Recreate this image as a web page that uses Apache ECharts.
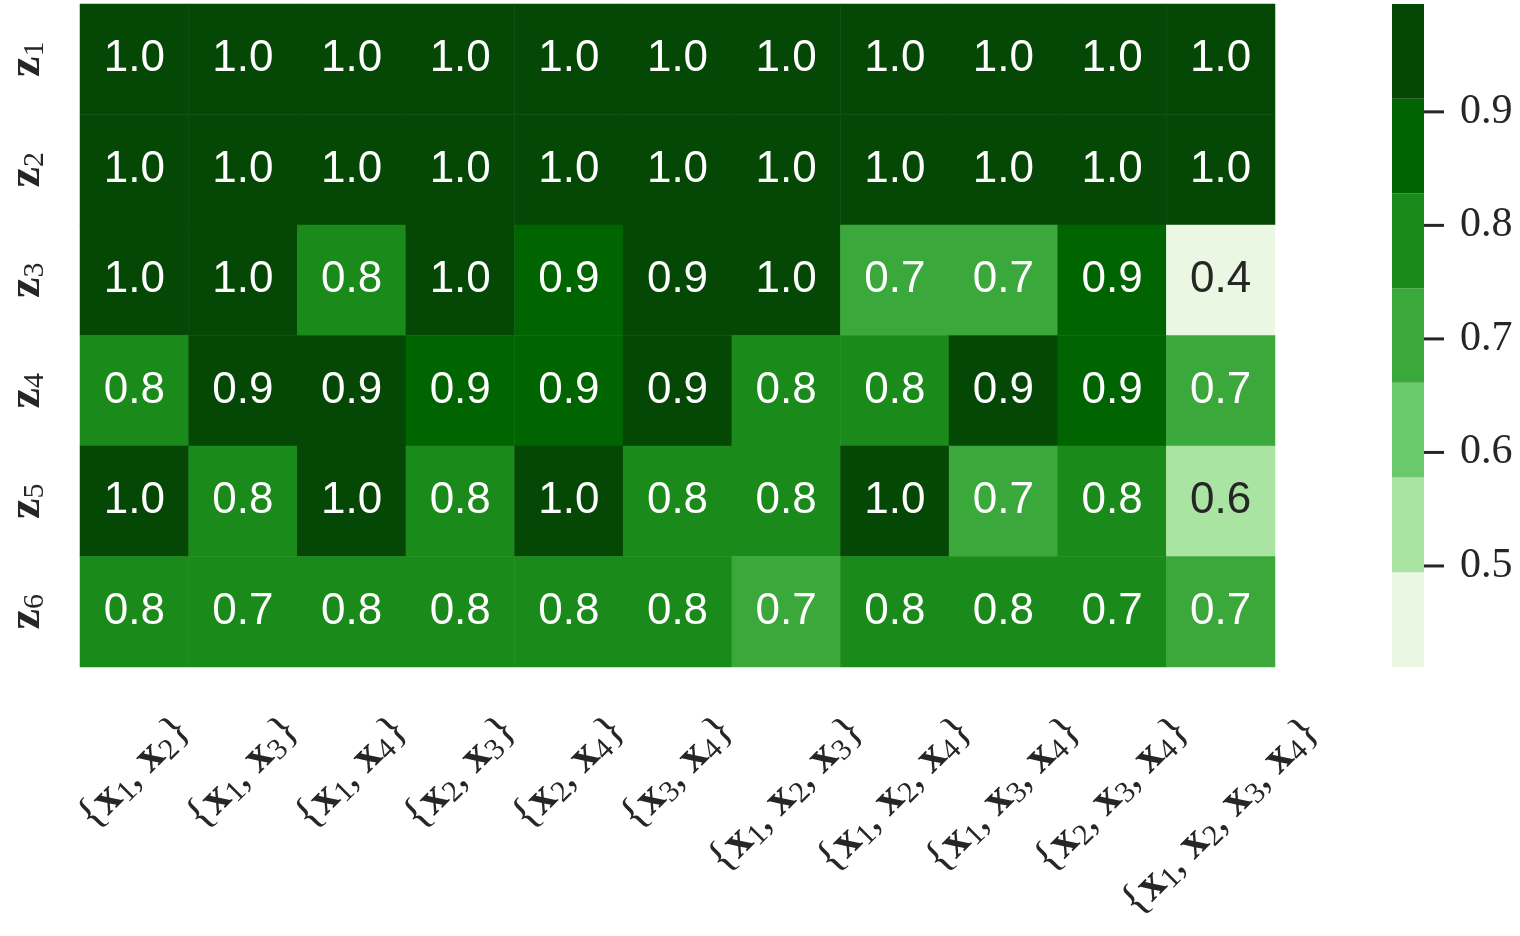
<!DOCTYPE html>
<html>
<head>
<meta charset="utf-8">
<script src="https://cdn.jsdelivr.net/npm/echarts@6/dist/echarts.min.js"></script>
<style>
  html, body { margin: 0; padding: 0; background: #fff; }
  #chart { width: 1520px; height: 936px; }
</style>
</head>
<body>
<div id="chart"></div>
<script>
// column subsets {x_i, ...}, rows z_1..z_6
const colSets = [
    ['1', '2'], ['1', '3'], ['1', '4'], ['2', '3'], ['2', '4'], ['3', '4'],
    ['1', '2', '3'], ['1', '2', '4'], ['1', '3', '4'], ['2', '3', '4'],
    ['1', '2', '3', '4']
]
const rowIds = ['1', '2', '3', '4', '5', '6']

const z1 = [0.99, 0.98, 0.99, 0.98, 0.995, 0.99, 0.98, 0.99, 0.98, 0.99, 0.98]
const z2 = [0.98, 0.99, 0.98, 0.99, 0.98, 0.97, 0.99, 0.98, 0.97, 0.98, 0.97]
const z3 = [0.97, 0.96, 0.80, 0.97, 0.88, 0.93, 0.96, 0.70, 0.71, 0.89, 0.411]
const z4 = [0.79, 0.92, 0.93, 0.89, 0.87, 0.92, 0.78, 0.80, 0.93, 0.88, 0.70]
const z5 = [0.96, 0.80, 0.96, 0.78, 0.96, 0.79, 0.80, 0.97, 0.69, 0.81, 0.56]
const z6 = [0.79, 0.746, 0.80, 0.78, 0.79, 0.80, 0.72, 0.79, 0.80, 0.748, 0.70]
const rows = [z1, z2, z3, z4, z5, z6]

const bandColors = ['#e9f7e3', '#a9e4a3', '#69c96b', '#3aa83a', '#1a8a1a', '#006400', '#054705']
const cbTicks = [0.5, 0.6, 0.7, 0.8, 0.9]

const textColor = '#262626'
const serif = '"Liberation Serif", "DejaVu Serif", serif'

let all = []
rows.forEach(r => all = all.concat(r))
const vMin = Math.min(...all)
const vMax = Math.max(...all)
const step = (vMax - vMin) / bandColors.length

let bands = []
let pieces = []
for (let i = 0; i < bandColors.length; i++) {
    let lo = vMin + step * i
    let hi = vMin + step * (i + 1)
    bands.push([0, lo, hi, i])
    pieces.push({ min: lo, max: hi, color: bandColors[i] })
}

let heatData = []
for (let r = 0; r < rows.length; r++) {
    for (let c = 0; c < rows[r].length; c++) {
        let v = rows[r][c]
        let band = Math.min(bandColors.length - 1, Math.floor((v - vMin) / step))
        heatData.push({
            value: [c, r, v],
            label: { color: band < 2 ? textColor : '#ffffff' }
        })
    }
}

// longer subsets get pushed down so every label starts just under the grid
let xData = colSets.map(set => {
    let extra = (set.length - 2) * 31
    return {
        value: set.map(s => '{x|x}{s|' + s + '}').join(', '),
        textStyle: { align: 'center', verticalAlign: 'middle', padding: [extra, extra, 0, 0] }
    }
})

let chart = echarts.init(document.getElementById('chart'))
let option = {
    backgroundColor: '#ffffff',
    animation: false,
    grid: [
        { left: 80, top: 4, width: 1195, height: 663, outerBoundsMode: 'none' },
        { left: 1392, top: 4, width: 32, height: 663, outerBoundsMode: 'none' }
    ],
    xAxis: [
        {
            type: 'category',
            gridIndex: 0,
            data: xData,
            axisLine: { show: false },
            axisTick: { show: false },
            splitLine: { show: false },
            axisLabel: {
                interval: 0,
                rotate: 45,
                margin: 106,
                color: textColor,
                fontFamily: serif,
                fontSize: 44,
                formatter: v => '{' + v + '}',
                rich: {
                    x: { fontFamily: serif, fontSize: 46, fontWeight: 'bold', color: textColor, lineHeight: 48 },
                    s: { fontFamily: serif, fontSize: 30, color: textColor, lineHeight: 30, verticalAlign: 'bottom' }
                }
            }
        },
        { type: 'value', gridIndex: 1, min: 0, max: 1, show: false }
    ],
    yAxis: [
        {
            type: 'category',
            gridIndex: 0,
            inverse: true,
            data: rowIds,
            axisLine: { show: false },
            axisTick: { show: false },
            splitLine: { show: false },
            axisLabel: {
                rotate: 90,
                margin: 30,
                color: textColor,
                formatter: v => '{z|z}{s|' + v + '}',
                rich: {
                    z: { fontFamily: serif, fontSize: 46, fontWeight: 'bold', color: textColor, lineHeight: 46 },
                    s: { fontFamily: serif, fontSize: 30, color: textColor, lineHeight: 30, verticalAlign: 'bottom' }
                }
            }
        },
        {
            type: 'value',
            gridIndex: 1,
            position: 'right',
            min: vMin,
            max: vMax,
            axisLine: { show: false },
            splitLine: { show: false },
            axisTick: { show: false },
            axisLabel: {
                customValues: cbTicks,
                margin: 36,
                color: textColor,
                fontFamily: serif,
                fontSize: 42,
                formatter: v => v.toFixed(1)
            }
        }
    ],
    visualMap: {
        type: 'piecewise',
        show: false,
        dimension: 2,
        seriesIndex: 0,
        pieces: pieces
    },
    series: [
        {
            type: 'heatmap',
            xAxisIndex: 0,
            yAxisIndex: 0,
            data: heatData,
            label: {
                show: true,
                fontFamily: '"Liberation Sans", Arial, sans-serif',
                fontSize: 44,
                formatter: p => p.value[2].toFixed(1)
            },
            itemStyle: { borderWidth: 0 }
        },
        {
            type: 'custom',
            xAxisIndex: 1,
            yAxisIndex: 1,
            data: bands,
            renderItem: function (params, api) {
                let p1 = api.coord([0, api.value(1)])
                let p2 = api.coord([1, api.value(2)])
                return {
                    type: 'rect',
                    shape: { x: p1[0], y: p2[1], width: p2[0] - p1[0], height: p1[1] - p2[1] },
                    style: { fill: bandColors[api.value(3)] }
                }
            }
        },
        {
            // colorbar tick marks
            type: 'custom',
            xAxisIndex: 1,
            yAxisIndex: 1,
            clip: false,
            data: cbTicks.map(t => [1, t]),
            renderItem: function (params, api) {
                let p = api.coord([1, api.value(1)])
                return {
                    type: 'line',
                    shape: { x1: p[0], y1: p[1], x2: p[0] + 20, y2: p[1] },
                    style: { stroke: textColor, lineWidth: 3 }
                }
            }
        }
    ]
}
chart.setOption(option)
</script>
</body>
</html>
